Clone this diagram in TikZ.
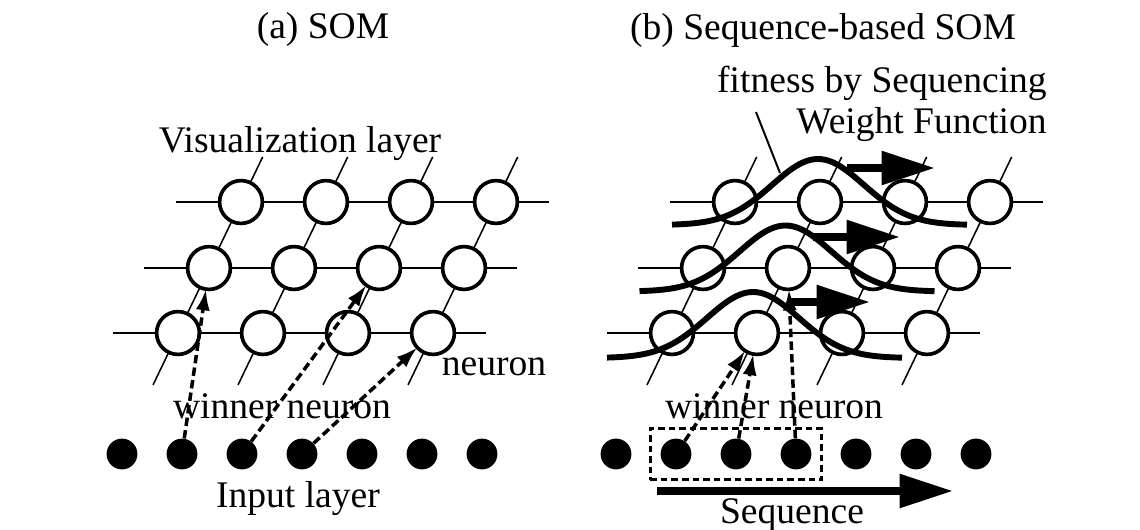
\documentclass[tikz,border=0pt]{standalone}
\usepackage{fontspec}
\setmainfont{Liberation Serif}
\usetikzlibrary{arrows.meta,positioning,fit,backgrounds}

\begin{document}
\begin{tikzpicture}
[x=0.025cm, y=-0.025cm, font=\fontsize{26.7}{32}\selectfont,
% STYLES
% neurons of the visualization layer
neuron/.style={circle, draw, line width=2.6pt, fill=white, minimum size=1.07cm, inner sep=0pt, outer sep=0pt},
% units of the input layer
inputdot/.style={circle, fill=black, minimum size=0.77cm, inner sep=0pt},
gridline/.style={line width=1.1pt},
lbl/.style={inner sep=0pt, anchor=base},
% input -> winner neuron
winner/.style={line width=2.5pt, dash pattern=on 6pt off 3pt, -{Latex[length=15pt,width=10pt]}},
fitcurve/.style={line width=4.2pt},
shiftarrow/.style={line width=5.5pt, -{Triangle[length=38pt,width=23pt]}},
seqbox/.style={draw, line width=2.1pt, dash pattern=on 4.7pt off 2.8pt, inner sep=0.25cm}]
\useasboundingbox (0,0) rectangle (1140,529);
% Draw both maps
\foreach \p/\dx in {a/0,b/494}{
\begin{scope}[shift={(\dx,0)}]
\foreach \r/\cx/\cy in {1/178/333, 2/209/268, 3/241/202}
  \foreach \c in {1,...,4}
    \node[neuron] (\p-v\r\c) at ({\cx+85*(\c-1)}, \cy) {};
\foreach \i in {1,...,7}
  \node[inputdot] (\p-in\i) at ({122+60*(\i-1)}, 454) {};
\begin{scope}[on background layer]
\foreach \r in {1,2,3}
  \draw[gridline, shorten <=-1.625cm, shorten >=-1.325cm] (\p-v\r1.center) -- (\p-v\r4.center);
\foreach \c in {1,...,4}
  \draw[gridline, shorten <=-1.44cm, shorten >=-1.25cm] (\p-v1\c.center) -- (\p-v3\c.center);
\end{scope}
\end{scope}
}
%%%%%%%%%%%%%%%
% (a) SOM
\node[lbl] (a-title) at (323,38) {(a) SOM};
\node[lbl] (a-vis) at (300,152) {Visualization layer};
\node[lbl] (a-neuron) at (494,375) {neuron};
\node[lbl] (a-win) at (282,418) {winner neuron};
\node[lbl] (a-input) at (298,507) {Input layer};
\draw[winner] (a-in2) -- (a-v21);
\draw[winner] (a-in3) -- (a-v23);
\draw[winner] (a-in4) -- (a-v14);
%%%%%%%%%%%%%%%
% (b) Sequence-based SOM
\node[lbl] (b-title) at (823,39) {(b) Sequence-based SOM};
\node[lbl, anchor=base east] (b-fit) at (1047,92) {fitness by Sequencing};
\node[lbl, anchor=base east] (b-swf) at (1047,133) {Weight Function};
\node[lbl] (b-win) at (774,418) {winner neuron};
\node[lbl] (b-seq) at (792,523) {Sequence};
% fitness curves, one per row
\foreach \px/\py in {753/292, 785.5/225.5, 818/159}
  \draw[fitcurve] plot[domain=-146:149, samples=80] ({\px+\x}, {\py+66-66*exp(-0.5*(\x/46)^2)});
\coordinate (b-ptr) at (756,112);
\coordinate (b-ptrend) at (780,173);
\draw[line width=1.4pt] (b-ptr) -- (b-ptrend);
% moving direction of the curves
\foreach \n/\sx/\ex/\ay in {1/790/870/302, 2/813/900/237, 3/847/935/168}{
  \coordinate (b-s\n) at (\sx,\ay);
  \coordinate (b-e\n) at (\ex,\ay);
  \draw[shiftarrow] (b-s\n) -- (b-e\n);
}
\draw[winner] (b-in2) -- (b-v12);
\draw[winner] (b-in3) -- (b-v12);
\draw[winner] (b-in4) -- (b-v22);
\node[seqbox, fit=(b-in2)(b-in4)] (b-window) {};
\coordinate (b-seqs) at (657,491);
\coordinate (b-seqe) at (953,491);
\draw[shiftarrow] (b-seqs) -- (b-seqe);
\end{tikzpicture}
\end{document}
